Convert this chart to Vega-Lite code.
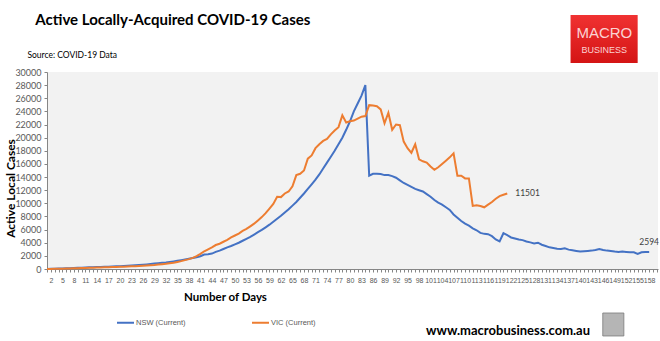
{
"$schema": "https://vega.github.io/schema/vega-lite/v6.json",
"width": 611, "height": 197,
"autosize": {"type": "none"},
"padding": {"left": 47, "top": 72, "right": 2, "bottom": 72},
"background": "white",
"config": {"view": {"fill": "#f2f2f2", "stroke": null}, "font": "Lato"},
"datasets": {
"cases": [
{"day":1,"series":"NSW (Current)","cases":0},{"day":2,"series":"NSW (Current)","cases":20},{"day":3,"series":"NSW (Current)","cases":40},{"day":4,"series":"NSW (Current)","cases":60},{"day":5,"series":"NSW (Current)","cases":80},{"day":6,"series":"NSW (Current)","cases":100},{"day":7,"series":"NSW (Current)","cases":120},{"day":8,"series":"NSW (Current)","cases":150},{"day":9,"series":"NSW (Current)","cases":180},{"day":10,"series":"NSW (Current)","cases":200},
{"day":11,"series":"NSW (Current)","cases":220},{"day":12,"series":"NSW (Current)","cases":250},{"day":13,"series":"NSW (Current)","cases":280},{"day":14,"series":"NSW (Current)","cases":300},{"day":15,"series":"NSW (Current)","cases":320},{"day":16,"series":"NSW (Current)","cases":340},{"day":17,"series":"NSW (Current)","cases":360},{"day":18,"series":"NSW (Current)","cases":380},{"day":19,"series":"NSW (Current)","cases":400},{"day":20,"series":"NSW (Current)","cases":420},
{"day":21,"series":"NSW (Current)","cases":450},{"day":22,"series":"NSW (Current)","cases":480},{"day":23,"series":"NSW (Current)","cases":520},{"day":24,"series":"NSW (Current)","cases":560},{"day":25,"series":"NSW (Current)","cases":600},{"day":26,"series":"NSW (Current)","cases":650},{"day":27,"series":"NSW (Current)","cases":700},{"day":28,"series":"NSW (Current)","cases":760},{"day":29,"series":"NSW (Current)","cases":820},{"day":30,"series":"NSW (Current)","cases":880},
{"day":31,"series":"NSW (Current)","cases":940},{"day":32,"series":"NSW (Current)","cases":1000},{"day":33,"series":"NSW (Current)","cases":1080},{"day":34,"series":"NSW (Current)","cases":1160},{"day":35,"series":"NSW (Current)","cases":1250},{"day":36,"series":"NSW (Current)","cases":1350},{"day":37,"series":"NSW (Current)","cases":1450},{"day":38,"series":"NSW (Current)","cases":1560},{"day":39,"series":"NSW (Current)","cases":1680},{"day":40,"series":"NSW (Current)","cases":1800},
{"day":41,"series":"NSW (Current)","cases":1950},{"day":42,"series":"NSW (Current)","cases":2200},{"day":43,"series":"NSW (Current)","cases":2250},{"day":44,"series":"NSW (Current)","cases":2350},{"day":45,"series":"NSW (Current)","cases":2600},{"day":46,"series":"NSW (Current)","cases":2800},{"day":47,"series":"NSW (Current)","cases":3050},{"day":48,"series":"NSW (Current)","cases":3300},{"day":49,"series":"NSW (Current)","cases":3500},{"day":50,"series":"NSW (Current)","cases":3750},
{"day":51,"series":"NSW (Current)","cases":4000},{"day":52,"series":"NSW (Current)","cases":4300},{"day":53,"series":"NSW (Current)","cases":4600},{"day":54,"series":"NSW (Current)","cases":4900},{"day":55,"series":"NSW (Current)","cases":5250},{"day":56,"series":"NSW (Current)","cases":5600},{"day":57,"series":"NSW (Current)","cases":5950},{"day":58,"series":"NSW (Current)","cases":6350},{"day":59,"series":"NSW (Current)","cases":6750},{"day":60,"series":"NSW (Current)","cases":7200},
{"day":61,"series":"NSW (Current)","cases":7650},{"day":62,"series":"NSW (Current)","cases":8100},{"day":63,"series":"NSW (Current)","cases":8600},{"day":64,"series":"NSW (Current)","cases":9100},{"day":65,"series":"NSW (Current)","cases":9650},{"day":66,"series":"NSW (Current)","cases":10200},{"day":67,"series":"NSW (Current)","cases":10850},{"day":68,"series":"NSW (Current)","cases":11500},{"day":69,"series":"NSW (Current)","cases":12200},{"day":70,"series":"NSW (Current)","cases":12900},
{"day":71,"series":"NSW (Current)","cases":13600},{"day":72,"series":"NSW (Current)","cases":14400},{"day":73,"series":"NSW (Current)","cases":15300},{"day":74,"series":"NSW (Current)","cases":16200},{"day":75,"series":"NSW (Current)","cases":17100},{"day":76,"series":"NSW (Current)","cases":18000},{"day":77,"series":"NSW (Current)","cases":19000},{"day":78,"series":"NSW (Current)","cases":20000},{"day":79,"series":"NSW (Current)","cases":21200},{"day":80,"series":"NSW (Current)","cases":22500},
{"day":81,"series":"NSW (Current)","cases":24000},{"day":82,"series":"NSW (Current)","cases":25200},{"day":83,"series":"NSW (Current)","cases":26400},{"day":84,"series":"NSW (Current)","cases":28000},{"day":85,"series":"NSW (Current)","cases":14200},{"day":86,"series":"NSW (Current)","cases":14500},{"day":87,"series":"NSW (Current)","cases":14500},{"day":88,"series":"NSW (Current)","cases":14450},{"day":89,"series":"NSW (Current)","cases":14300},{"day":90,"series":"NSW (Current)","cases":14300},
{"day":91,"series":"NSW (Current)","cases":14150},{"day":92,"series":"NSW (Current)","cases":13900},{"day":93,"series":"NSW (Current)","cases":13500},{"day":94,"series":"NSW (Current)","cases":13100},{"day":95,"series":"NSW (Current)","cases":12800},{"day":96,"series":"NSW (Current)","cases":12500},{"day":97,"series":"NSW (Current)","cases":12200},{"day":98,"series":"NSW (Current)","cases":12000},{"day":99,"series":"NSW (Current)","cases":11800},{"day":100,"series":"NSW (Current)","cases":11400},
{"day":101,"series":"NSW (Current)","cases":11000},{"day":102,"series":"NSW (Current)","cases":10500},{"day":103,"series":"NSW (Current)","cases":10100},{"day":104,"series":"NSW (Current)","cases":9800},{"day":105,"series":"NSW (Current)","cases":9400},{"day":106,"series":"NSW (Current)","cases":9000},{"day":107,"series":"NSW (Current)","cases":8300},{"day":108,"series":"NSW (Current)","cases":7800},{"day":109,"series":"NSW (Current)","cases":7300},{"day":110,"series":"NSW (Current)","cases":6900},
{"day":111,"series":"NSW (Current)","cases":6600},{"day":112,"series":"NSW (Current)","cases":6200},{"day":113,"series":"NSW (Current)","cases":5900},{"day":114,"series":"NSW (Current)","cases":5500},{"day":115,"series":"NSW (Current)","cases":5350},{"day":116,"series":"NSW (Current)","cases":5300},{"day":117,"series":"NSW (Current)","cases":5000},{"day":118,"series":"NSW (Current)","cases":4500},{"day":119,"series":"NSW (Current)","cases":4200},{"day":120,"series":"NSW (Current)","cases":5450},
{"day":121,"series":"NSW (Current)","cases":5150},{"day":122,"series":"NSW (Current)","cases":4800},{"day":123,"series":"NSW (Current)","cases":4650},{"day":124,"series":"NSW (Current)","cases":4500},{"day":125,"series":"NSW (Current)","cases":4400},{"day":126,"series":"NSW (Current)","cases":4200},{"day":127,"series":"NSW (Current)","cases":4050},{"day":128,"series":"NSW (Current)","cases":3900},{"day":129,"series":"NSW (Current)","cases":4000},{"day":130,"series":"NSW (Current)","cases":3700},
{"day":131,"series":"NSW (Current)","cases":3500},{"day":132,"series":"NSW (Current)","cases":3300},{"day":133,"series":"NSW (Current)","cases":3200},{"day":134,"series":"NSW (Current)","cases":3100},{"day":135,"series":"NSW (Current)","cases":3050},{"day":136,"series":"NSW (Current)","cases":3150},{"day":137,"series":"NSW (Current)","cases":2950},{"day":138,"series":"NSW (Current)","cases":2850},{"day":139,"series":"NSW (Current)","cases":2750},{"day":140,"series":"NSW (Current)","cases":2650},
{"day":141,"series":"NSW (Current)","cases":2700},{"day":142,"series":"NSW (Current)","cases":2750},{"day":143,"series":"NSW (Current)","cases":2800},{"day":144,"series":"NSW (Current)","cases":2900},{"day":145,"series":"NSW (Current)","cases":3050},{"day":146,"series":"NSW (Current)","cases":2900},{"day":147,"series":"NSW (Current)","cases":2800},{"day":148,"series":"NSW (Current)","cases":2750},{"day":149,"series":"NSW (Current)","cases":2650},{"day":150,"series":"NSW (Current)","cases":2600},
{"day":151,"series":"NSW (Current)","cases":2650},{"day":152,"series":"NSW (Current)","cases":2600},{"day":153,"series":"NSW (Current)","cases":2550},{"day":154,"series":"NSW (Current)","cases":2550},{"day":155,"series":"NSW (Current)","cases":2300},{"day":156,"series":"NSW (Current)","cases":2550},{"day":157,"series":"NSW (Current)","cases":2580},{"day":158,"series":"NSW (Current)","cases":2594},
{"day":1,"series":"VIC (Current)","cases":0},{"day":2,"series":"VIC (Current)","cases":10},{"day":3,"series":"VIC (Current)","cases":20},{"day":4,"series":"VIC (Current)","cases":30},{"day":5,"series":"VIC (Current)","cases":40},{"day":6,"series":"VIC (Current)","cases":60},{"day":7,"series":"VIC (Current)","cases":80},{"day":8,"series":"VIC (Current)","cases":100},{"day":9,"series":"VIC (Current)","cases":120},{"day":10,"series":"VIC (Current)","cases":140},
{"day":11,"series":"VIC (Current)","cases":160},{"day":12,"series":"VIC (Current)","cases":180},{"day":13,"series":"VIC (Current)","cases":200},{"day":14,"series":"VIC (Current)","cases":220},{"day":15,"series":"VIC (Current)","cases":240},{"day":16,"series":"VIC (Current)","cases":260},{"day":17,"series":"VIC (Current)","cases":280},{"day":18,"series":"VIC (Current)","cases":300},{"day":19,"series":"VIC (Current)","cases":320},{"day":20,"series":"VIC (Current)","cases":340},
{"day":21,"series":"VIC (Current)","cases":360},{"day":22,"series":"VIC (Current)","cases":380},{"day":23,"series":"VIC (Current)","cases":400},{"day":24,"series":"VIC (Current)","cases":430},{"day":25,"series":"VIC (Current)","cases":460},{"day":26,"series":"VIC (Current)","cases":500},{"day":27,"series":"VIC (Current)","cases":540},{"day":28,"series":"VIC (Current)","cases":580},{"day":29,"series":"VIC (Current)","cases":620},{"day":30,"series":"VIC (Current)","cases":680},
{"day":31,"series":"VIC (Current)","cases":740},{"day":32,"series":"VIC (Current)","cases":800},{"day":33,"series":"VIC (Current)","cases":880},{"day":34,"series":"VIC (Current)","cases":960},{"day":35,"series":"VIC (Current)","cases":1080},{"day":36,"series":"VIC (Current)","cases":1200},{"day":37,"series":"VIC (Current)","cases":1350},{"day":38,"series":"VIC (Current)","cases":1500},{"day":39,"series":"VIC (Current)","cases":1700},{"day":40,"series":"VIC (Current)","cases":1950},
{"day":41,"series":"VIC (Current)","cases":2300},{"day":42,"series":"VIC (Current)","cases":2700},{"day":43,"series":"VIC (Current)","cases":3000},{"day":44,"series":"VIC (Current)","cases":3300},{"day":45,"series":"VIC (Current)","cases":3650},{"day":46,"series":"VIC (Current)","cases":3850},{"day":47,"series":"VIC (Current)","cases":4150},{"day":48,"series":"VIC (Current)","cases":4450},{"day":49,"series":"VIC (Current)","cases":4800},{"day":50,"series":"VIC (Current)","cases":5100},
{"day":51,"series":"VIC (Current)","cases":5400},{"day":52,"series":"VIC (Current)","cases":5800},{"day":53,"series":"VIC (Current)","cases":6100},{"day":54,"series":"VIC (Current)","cases":6500},{"day":55,"series":"VIC (Current)","cases":6900},{"day":56,"series":"VIC (Current)","cases":7400},{"day":57,"series":"VIC (Current)","cases":7900},{"day":58,"series":"VIC (Current)","cases":8500},{"day":59,"series":"VIC (Current)","cases":9200},{"day":60,"series":"VIC (Current)","cases":9900},
{"day":61,"series":"VIC (Current)","cases":11000},{"day":62,"series":"VIC (Current)","cases":10950},{"day":63,"series":"VIC (Current)","cases":11500},{"day":64,"series":"VIC (Current)","cases":11800},{"day":65,"series":"VIC (Current)","cases":12600},{"day":66,"series":"VIC (Current)","cases":14300},{"day":67,"series":"VIC (Current)","cases":14500},{"day":68,"series":"VIC (Current)","cases":15000},{"day":69,"series":"VIC (Current)","cases":16800},{"day":70,"series":"VIC (Current)","cases":17300},
{"day":71,"series":"VIC (Current)","cases":18400},{"day":72,"series":"VIC (Current)","cases":19000},{"day":73,"series":"VIC (Current)","cases":19500},{"day":74,"series":"VIC (Current)","cases":19800},{"day":75,"series":"VIC (Current)","cases":20500},{"day":76,"series":"VIC (Current)","cases":21100},{"day":77,"series":"VIC (Current)","cases":21600},{"day":78,"series":"VIC (Current)","cases":23400},{"day":79,"series":"VIC (Current)","cases":22300},{"day":80,"series":"VIC (Current)","cases":22500},
{"day":81,"series":"VIC (Current)","cases":22600},{"day":82,"series":"VIC (Current)","cases":22900},{"day":83,"series":"VIC (Current)","cases":23200},{"day":84,"series":"VIC (Current)","cases":23300},{"day":85,"series":"VIC (Current)","cases":24950},{"day":86,"series":"VIC (Current)","cases":24900},{"day":87,"series":"VIC (Current)","cases":24800},{"day":88,"series":"VIC (Current)","cases":24300},{"day":89,"series":"VIC (Current)","cases":22200},{"day":90,"series":"VIC (Current)","cases":23800},
{"day":91,"series":"VIC (Current)","cases":21200},{"day":92,"series":"VIC (Current)","cases":22000},{"day":93,"series":"VIC (Current)","cases":21900},{"day":94,"series":"VIC (Current)","cases":19400},{"day":95,"series":"VIC (Current)","cases":18400},{"day":96,"series":"VIC (Current)","cases":17700},{"day":97,"series":"VIC (Current)","cases":19000},{"day":98,"series":"VIC (Current)","cases":16700},{"day":99,"series":"VIC (Current)","cases":16400},{"day":100,"series":"VIC (Current)","cases":16200},
{"day":101,"series":"VIC (Current)","cases":15600},{"day":102,"series":"VIC (Current)","cases":15100},{"day":103,"series":"VIC (Current)","cases":15500},{"day":104,"series":"VIC (Current)","cases":16000},{"day":105,"series":"VIC (Current)","cases":16500},{"day":106,"series":"VIC (Current)","cases":17000},{"day":107,"series":"VIC (Current)","cases":17600},{"day":108,"series":"VIC (Current)","cases":14200},{"day":109,"series":"VIC (Current)","cases":14200},{"day":110,"series":"VIC (Current)","cases":13800},
{"day":111,"series":"VIC (Current)","cases":13800},{"day":112,"series":"VIC (Current)","cases":9600},{"day":113,"series":"VIC (Current)","cases":9700},{"day":114,"series":"VIC (Current)","cases":9600},{"day":115,"series":"VIC (Current)","cases":9400},{"day":116,"series":"VIC (Current)","cases":9800},{"day":117,"series":"VIC (Current)","cases":10200},{"day":118,"series":"VIC (Current)","cases":10700},{"day":119,"series":"VIC (Current)","cases":11100},{"day":120,"series":"VIC (Current)","cases":11300},
{"day":121,"series":"VIC (Current)","cases":11501}
]
},
"encoding": {
  "x": {"field": "day", "type": "quantitative", "scale": {"domain": [1, 160.3], "nice": false, "zero": false},
    "axis": {"title": "Number of Days", "titleFont": "Lato", "titleFontSize": 11.5, "titleFontWeight": "bold", "titleColor": "#000000", "titleX": 178, "titleY": 28, "titleAlign": "center", "titleBaseline": "middle",
      "values": [1,2,3,4,5,6,7,8,9,10,11,12,13,14,15,16,17,18,19,20,21,22,23,24,25,26,27,28,29,30,31,32,33,34,35,36,37,38,39,40,41,42,43,44,45,46,47,48,49,50,51,52,53,54,55,56,57,58,59,60,61,62,63,64,65,66,67,68,69,70,71,72,73,74,75,76,77,78,79,80,81,82,83,84,85,86,87,88,89,90,91,92,93,94,95,96,97,98,99,100,101,102,103,104,105,106,107,108,109,110,111,112,113,114,115,116,117,118,119,120,121,122,123,124,125,126,127,128,129,130,131,132,133,134,135,136,137,138,139,140,141,142,143,144,145,146,147,148,149,150,151,152,153,154,155,156,157,158,159,160],
      "labelExpr": "(datum.value - 2) % 3 == 0 && datum.value <= 158 ? datum.label : ''",
      "labelOverlap": false, "labelFlush": false, "labelFont": "Liberation Sans", "labelFontSize": 7, "labelColor": "#595959", "labelPadding": 4,
      "tickSize": 3, "tickColor": "#868686", "domainColor": "#868686", "grid": false}},
  "y": {"field": "cases", "type": "quantitative", "scale": {"domain": [0, 30000], "nice": false},
    "axis": {"title": "Active Local Cases", "titleFont": "Lato", "titleFontSize": 12, "titleFontWeight": "bold", "titleColor": "#000000", "titleX": -37, "titleY": 116, "titleAngle": -90, "titleAlign": "center", "titleBaseline": "middle",
      "values": [0,2000,4000,6000,8000,10000,12000,14000,16000,18000,20000,22000,24000,26000,28000,30000], "format": "d",
      "labelFont": "Lato", "labelFontSize": 9, "labelColor": "#595959", "labelPadding": 3, "tickSize": 3, "tickColor": "#868686", "domainColor": "#868686", "grid": false}}
},
"layer": [
  {"data": {"name": "cases"},
   "mark": {"type": "line", "strokeWidth": 2},
   "encoding": {"color": {"field": "series", "type": "nominal",
     "scale": {"domain": ["NSW (Current)", "VIC (Current)"], "range": ["#4472C4", "#ED7D31"]},
     "legend": {"title": null, "orient": "none", "legendX": 69, "legendY": 241, "direction": "horizontal", "symbolType": "stroke", "symbolSize": 289, "symbolStrokeWidth": 2, "labelFont": "Liberation Sans", "labelFontSize": 7.5, "labelColor": "#595959", "labelOffset": 1, "columnPadding": 62}}}},
  {"data": {"values": [{"day": 121, "cases": 11501, "label": "11501"}]},
   "mark": {"type": "text", "align": "left", "baseline": "middle", "dx": 8, "font": "Lato", "fontSize": 8.5, "color": "#404040"},
   "encoding": {"text": {"field": "label"}}},
  {"data": {"values": [{"day": 158, "cases": 2594, "label": "2594"}]},
   "mark": {"type": "text", "align": "center", "baseline": "middle", "dy": -10, "font": "Lato", "fontSize": 8.5, "color": "#404040"},
   "encoding": {"text": {"field": "label"}}},
  {"data": {"values": [{"day": -2.05, "cases": 37920, "label": "Active Locally-Acquired COVID-19 Cases"}]},
   "mark": {"type": "text", "align": "left", "baseline": "middle", "font": "Lato", "fontWeight": "bold", "fontSize": 15, "color": "#000000"},
   "encoding": {"text": {"field": "label"}}},
  {"data": {"values": [{"day": -4.1, "cases": 32590, "label": "Source: COVID-19 Data"}]},
   "mark": {"type": "text", "align": "left", "baseline": "middle", "font": "Lato", "fontSize": 8.5, "color": "#000000"},
   "encoding": {"text": {"field": "label"}}},
  {"data": {"values": [{"day": 137.5, "day2": 155, "cases": 31370, "cases2": 38680}]},
   "mark": {"type": "rect", "fill": {"gradient": "linear", "x1": 0, "y1": 0, "x2": 0, "y2": 1, "stops": [{"offset": 0, "color": "#f03232"}, {"offset": 1, "color": "#d41414"}]}},
   "encoding": {"x2": {"field": "day2"}, "y2": {"field": "cases2"}}},
  {"data": {"values": [{"day": 146.3, "cases": 35940, "label": "MACRO"}]},
   "mark": {"type": "text", "align": "center", "baseline": "middle", "font": "Liberation Sans", "fontSize": 15, "color": "#fbd3d3"},
   "encoding": {"text": {"field": "label"}}},
  {"data": {"values": [{"day": 146.3, "cases": 33350, "label": "BUSINESS"}]},
   "mark": {"type": "text", "align": "center", "baseline": "middle", "font": "Liberation Sans", "fontSize": 9, "color": "#fbd3d3"},
   "encoding": {"text": {"field": "label"}}},
  {"data": {"values": [{"day": 121.2, "cases": -9440, "label": "www.macrobusiness.com.au"}]},
   "mark": {"type": "text", "align": "center", "baseline": "middle", "font": "Lato", "fontWeight": "bold", "fontSize": 13, "color": "#000000"},
   "encoding": {"text": {"field": "label"}}},
  {"data": {"values": [{"day": 145.9, "day2": 151.4, "cases": -6700, "cases2": -10200}]},
   "mark": {"type": "rect", "fill": "#b5b5b5", "stroke": "#7a7a7a", "strokeWidth": 0.8},
   "encoding": {"x2": {"field": "day2"}, "y2": {"field": "cases2"}}}
]
}
